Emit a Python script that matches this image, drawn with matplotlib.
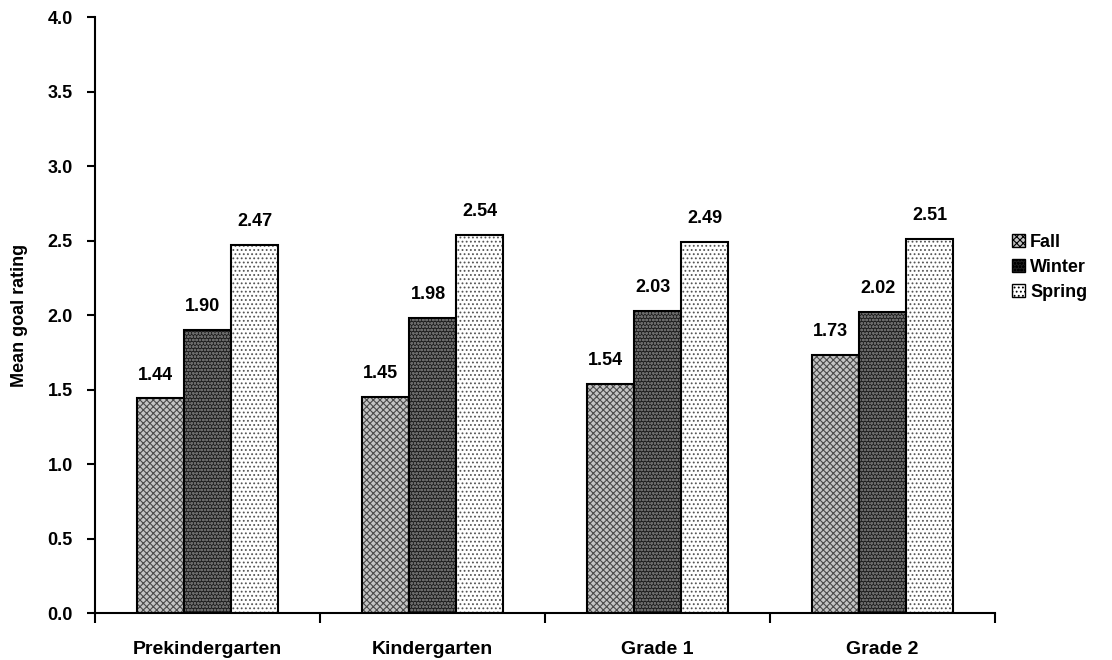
import matplotlib
matplotlib.use("Agg")
import matplotlib.pyplot as plt
import numpy as np
from matplotlib.patches import Patch

categories = ["Prekindergarten", "Kindergarten", "Grade 1", "Grade 2"]
series = ["Fall", "Winter", "Spring"]
fall = [1.44, 1.45, 1.54, 1.73]
winter = [1.90, 1.98, 2.03, 2.02]
spring = [2.47, 2.54, 2.49, 2.51]
values = [fall, winter, spring]

plt.rcParams['font.family'] = ['Liberation Sans', 'DejaVu Sans']
plt.rcParams['font.weight'] = 'bold'
plt.rcParams['hatch.linewidth'] = 0.8

fig = plt.figure(figsize=(11.12, 6.6), dpi=100)
ax = fig.add_axes([0.0854, 0.0712, 0.8094, 0.903])

x = np.arange(len(categories))
w = 0.21
faces = ['#c4c4c4', '#1e1e1e', '#ffffff']
hatch_cols = ['#4a4a4a', '#6a6a6a', '#555555']
hatches = ['xxxxx', 'ooooo', '....']
for i, vals in enumerate(values):
    pos = x + (i - 1) * w
    ax.bar(pos, vals, w, color=faces[i], hatch=hatches[i], edgecolor=hatch_cols[i], linewidth=0)
    ax.bar(pos, vals, w, facecolor='none', edgecolor='black', linewidth=1.5)
    for p, v in zip(pos, vals):
        ax.text(p - (0.0 if i == 2 else 0.02), v + 0.1, f"{v:.2f}", ha='center', va='bottom',
                fontsize=13, fontweight='bold')

ax.set_xlim(-0.5, 3.5)
ax.set_ylim(0, 4.0)
ax.set_yticks(np.arange(0, 4.01, 0.5))
ax.set_yticklabels([f"{t:.1f}" for t in np.arange(0, 4.01, 0.5)], fontsize=13, fontweight='bold')
ax.set_xticks(np.arange(-0.5, 3.51, 1.0))
ax.set_xticklabels([])
ax.set_xticks(x, minor=True)
ax.set_xticklabels(categories, minor=True, fontsize=14, fontweight='bold')
ax.tick_params(axis='x', which='minor', length=0, pad=20)
ax.tick_params(axis='x', which='major', direction='out', length=7, width=1.5)
ax.tick_params(axis='y', direction='out', length=6, width=1.5, pad=10)
ax.spines['top'].set_visible(False)
ax.spines['right'].set_visible(False)
ax.spines['left'].set_linewidth(1.5)
ax.spines['bottom'].set_linewidth(1.5)
ax.set_ylabel("Mean goal rating", fontsize=13, fontweight='bold', labelpad=14)

handles = [Patch(facecolor=faces[i], hatch=hatches[i], edgecolor='black', linewidth=1) for i in range(3)]
fig.legend(handles, series, loc='center left', bbox_to_anchor=(0.902, 0.595), frameon=False,
           prop={'size': 13, 'weight': 'bold'}, handlelength=0.7, handleheight=0.7,
           handletextpad=0.3, labelspacing=0.45, borderpad=0)

fig.savefig("out.png", dpi=100)
